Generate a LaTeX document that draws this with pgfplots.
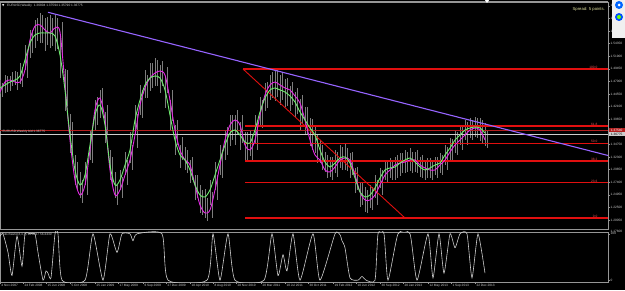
\documentclass[border=0pt]{standalone}
\usepackage{fontspec}
\setmainfont{Liberation Sans}
\newfontfamily\djv{DejaVu Sans}
\usepackage{pgfplots}
\pgfplotsset{compat=1.18}
\usepackage{pgfplotstable}
\definecolor{bargray}{RGB}{125,125,125}
\definecolor{magen}{RGB}{230,40,230}
\definecolor{lgreen}{RGB}{110,235,110}
\definecolor{fibred}{RGB}{225,15,15}
\definecolor{askred}{RGB}{180,30,30}
\definecolor{purp}{RGB}{150,100,255}
\definecolor{axgray}{RGB}{150,150,150}
\definecolor{lbl}{RGB}{205,205,205}
\definecolor{spr}{RGB}{225,225,160}
\newcommand\tf{\fontsize{3.2}{3.6}\selectfont}

\pgfplotstableread{
x G M ep em ep2 em2
0 1.4571 1.4493 .015 .012 .018 .010
5 1.4629 1.4687 .020 .015 .012 .020
10 1.4687 1.4726 .012 .018 .015 .012
15 1.4726 1.4687 .018 .010 .020 .015
20 1.4804 1.4687 .025 .015 .030 .010
25 1.5115 1.4921 .030 .020 .035 .015
30 1.5446 1.5504 .025 .030 .020 .025
35 1.5601 1.5776 .030 .025 .015 .030
40 1.5640 1.5796 .038 .020 .020 .035
45 1.5640 1.5699 .030 .035 .025 .030
50 1.5640 1.5640 .035 .030 .030 .025
55 1.5582 1.5738 .040 .030 .020 .040
60 1.5212 1.5660 .035 .045 .020 .050
65 1.4532 1.4629 .040 .040 .030 .040
70 1.3656 1.3559 .040 .035 .035 .030
75 1.2976 1.2781 .030 .030 .035 .020
80 1.2684 1.2489 .025 .025 .030 .015
85 1.2878 1.2684 .025 .020 .030 .020
90 1.3462 1.3365 .030 .030 .035 .025
95 1.4045 1.4143 .030 .030 .025 .030
100 1.4240 1.4376 .030 .025 .020 .030
105 1.3851 1.3948 .025 .035 .030 .030
110 1.3073 1.2976 .030 .030 .025 .030
115 1.2684 1.2489 .025 .025 .020 .020
120 1.2781 1.2587 .020 .020 .025 .015
125 1.3073 1.2878 .025 .020 .030 .020
130 1.3365 1.3170 .035 .025 .030 .020
135 1.3948 1.3656 .030 .030 .040 .025
140 1.4337 1.4240 .030 .030 .030 .025
145 1.4629 1.4571 .030 .025 .025 .020
150 1.4765 1.4765 .030 .025 .030 .020
155 1.4804 1.4862 .035 .020 .025 .025
160 1.4765 1.4901 .025 .030 .020 .030
165 1.4532 1.4823 .025 .035 .015 .035
170 1.4045 1.4337 .030 .030 .020 .040
175 1.3559 1.3754 .030 .030 .020 .030
180 1.3267 1.3365 .020 .025 .025 .020
185 1.3170 1.3170 .025 .020 .020 .025
190 1.2976 1.3073 .020 .025 .015 .030
195 1.2684 1.2684 .020 .030 .020 .025
200 1.2489 1.2295 .020 .035 .030 .020
205 1.2451 1.2139 .015 .040 .030 .015
210 1.2587 1.2198 .020 .030 .035 .015
215 1.2878 1.2587 .025 .030 .030 .020
220 1.3170 1.3073 .030 .030 .030 .025
225 1.3462 1.3559 .030 .030 .025 .030
230 1.3695 1.3851 .035 .025 .020 .030
235 1.3754 1.3948 .030 .030 .020 .030
240 1.3656 1.3851 .025 .030 .020 .035
245 1.3520 1.3462 .020 .035 .025 .030
250 1.3501 1.3365 .025 .025 .030 .020
255 1.3754 1.3559 .030 .025 .035 .020
260 1.4104 1.4045 .030 .025 .030 .025
265 1.4376 1.4434 .030 .025 .025 .025
270 1.4532 1.4629 .030 .020 .025 .025
275 1.4571 1.4687 .035 .025 .025 .030
280 1.4532 1.4629 .030 .030 .025 .030
285 1.4493 1.4571 .025 .030 .020 .035
290 1.4415 1.4532 .020 .030 .015 .030
295 1.4298 1.4415 .020 .030 .015 .035
300 1.4104 1.4279 .025 .035 .015 .040
305 1.3948 1.3948 .025 .030 .025 .030
310 1.3793 1.3559 .020 .035 .040 .020
315 1.3656 1.3267 .020 .035 .040 .015
320 1.3365 1.3170 .020 .025 .030 .020
325 1.3131 1.2976 .020 .020 .030 .015
330 1.3034 1.2937 .020 .020 .030 .015
335 1.3112 1.3034 .025 .020 .030 .020
340 1.3209 1.3170 .025 .020 .025 .020
345 1.3229 1.3209 .025 .025 .020 .025
350 1.3112 1.3170 .020 .030 .015 .030
355 1.2820 1.2878 .020 .030 .015 .030
360 1.2548 1.2548 .020 .030 .020 .025
365 1.2451 1.2392 .020 .030 .020 .025
370 1.2489 1.2392 .020 .025 .025 .020
375 1.2626 1.2489 .025 .020 .030 .020
380 1.2820 1.2684 .020 .020 .030 .020
385 1.2976 1.2878 .020 .020 .025 .015
390 1.3015 1.2976 .020 .020 .020 .020
395 1.3034 1.3073 .020 .025 .020 .025
400 1.3112 1.3112 .020 .025 .020 .020
405 1.3170 1.3131 .020 .025 .020 .020
410 1.3209 1.3170 .020 .025 .015 .025
415 1.3131 1.3170 .020 .020 .020 .025
420 1.3034 1.3073 .020 .020 .020 .025
425 1.2976 1.3015 .020 .020 .020 .020
430 1.3015 1.2976 .020 .020 .020 .020
435 1.3073 1.2976 .015 .020 .025 .015
440 1.3112 1.3073 .020 .020 .020 .020
445 1.3267 1.3170 .020 .020 .025 .020
450 1.3404 1.3326 .020 .025 .025 .020
455 1.3559 1.3462 .020 .025 .025 .020
460 1.3656 1.3559 .020 .020 .025 .020
465 1.3754 1.3656 .020 .020 .025 .020
470 1.3793 1.3754 .020 .020 .020 .020
475 1.3812 1.3793 .020 .020 .020 .020
480 1.3793 1.3754 .020 .025 .020 .025
485 1.3695 1.3559 .020 .025 .020 .015
}\price

\pgfplotstableread{
x s
0 95
3 100
8 60
12 10
17 95
22 30
25 100
30 100
35 100
38 60
43 0
46 20
48 15
51 5
55 100
58 100
62 0
85 0
93 100
103 0
110 100
117 60
122 100
130 100
133 85
137 100
162 100
168 0
207 0
213 100
220 0
228 100
235 0
264 0
272 100
278 10
283 55
287 20
293 100
300 0
313 100
320 0
335 100
340 98
342 85
345 70
350 5
358 0
362 8
366 0
375 0
378 100
384 100
388 0
398 100
410 100
417 0
428 100
433 5
439 100
444 15
450 100
455 70
460 100
467 100
472 5
478 100
485 15
}\stoch

\begin{document}
\begin{tikzpicture}[x=1pt,y=1pt]
\fill[black] (0pt,0pt) rectangle (625pt,290pt);
\useasboundingbox (0pt,0pt) rectangle (625pt,290pt);
\draw[axgray, line width=0.5pt] (0pt,288.5pt) -- (608pt,288.5pt);
\begin{axis}[at={(0pt,61pt)}, anchor=south west, scale only axis,
  width=608pt, height=227pt,
  xmin=0, xmax=608, ymin=1.18281, ymax=1.62432,
  axis line style={axgray, line width=0.5pt},
  xtick=\empty,
  ytick={1.20050,1.22500,1.24950,1.27400,1.29850,1.32300,1.34750,1.37200,1.39650,1.42100,1.44550,1.47000,1.49450,1.51900,1.54350,1.56800,1.59250,1.61700},
  ytick pos=right, yticklabel pos=right, tick align=outside,
  major tick length=1.5pt, tick style={axgray, line width=0.4pt},
  scaled y ticks=false,
  yticklabel style={font=\tf, text=lbl, inner sep=1pt, /pgf/number format/.cd, fixed, fixed zerofill, precision=5, assume math mode=true},
  clip=true]
\addplot[draw=none, mark=none, forget plot, error bars/.cd, y dir=both, y explicit, error mark=none,
  error bar style={draw=bargray, line width=0.5pt}]
  table[x=x, y=G, y error plus=ep, y error minus=em]{\price};
\addplot[draw=none, mark=none, forget plot, error bars/.cd, y dir=both, y explicit, error mark=none,
  error bar style={draw=bargray, line width=0.5pt}]
  table[x expr=\thisrow{x}+2.5, y=M, y error plus=ep2, y error minus=em2]{\price};
% fibonacci levels
\addplot[draw=fibred, line width=1.2pt] coordinates {(243,1.4940) (608,1.4940)};
\addplot[draw=fibred, line width=1.2pt] coordinates {(245,1.3833) (608,1.3833)};
\addplot[draw=fibred, line width=1.2pt] coordinates {(245,1.3491) (608,1.3491)};
\addplot[draw=fibred, line width=1.2pt] coordinates {(245,1.3149) (608,1.3149)};
\addplot[draw=fibred, line width=1.2pt] coordinates {(245,1.2726) (608,1.2726)};
\addplot[draw=fibred, line width=1.2pt] coordinates {(245,1.2042) (608,1.2042)};
\addplot[draw=fibred, line width=0.9pt] coordinates {(243,1.4940) (405,1.2042)};
% ask / bid lines
\addplot[draw=askred, line width=0.6pt] coordinates {(0,1.3754) (608,1.3754)};
\addplot[draw=lbl, line width=0.4pt] coordinates {(0,1.3676) (608,1.3676)};
% moving averages
\addplot[magen, line width=0.9pt, smooth, tension=0.5] table[x=x, y=M]{\price};
\addplot[lgreen, line width=0.9pt, smooth, tension=0.5] table[x=x, y=G]{\price};
% trend line
\addplot[purp, line width=1.1pt] coordinates {(48,1.6043) (608,1.3258)};
\node[anchor=south east, font=\tf, text=fibred!70!white, inner sep=0.4pt] at (axis cs:598,1.4940) {100.0};
\node[anchor=south east, font=\tf, text=fibred!70!white, inner sep=0.4pt] at (axis cs:598,1.3833) {61.8};
\node[anchor=south east, font=\tf, text=fibred!70!white, inner sep=0.4pt] at (axis cs:598,1.3491) {50.0};
\node[anchor=south east, font=\tf, text=fibred!70!white, inner sep=0.4pt] at (axis cs:598,1.3149) {38.2};
\node[anchor=south east, font=\tf, text=fibred!70!white, inner sep=0.4pt] at (axis cs:598,1.2726) {23.6};
\node[anchor=south east, font=\tf, text=fibred!70!white, inner sep=0.4pt] at (axis cs:598,1.2042) {0.0};
\node[anchor=south west, font=\tf, text=lbl, inner sep=0.4pt] at (axis cs:2,1.3676) {EURUSD,Weekly bid 1.36775};
\end{axis}
\begin{axis}[at={(0pt,8pt)}, anchor=south west, scale only axis,
  width=608pt, height=50pt,
  xmin=0, xmax=608, ymin=-4, ymax=104,
  axis line style={axgray, line width=0.5pt},
  xtick={0,23,46,70,95,118,143,166,190,213,236,261,285,308,333,356,380,403,428,451,475},
  xticklabels={4 Nov 2007,24 Feb 2008,15 Jun 2008,5 Oct 2008,25 Jan 2009,17 May 2009,6 Sep 2009,27 Dec 2009,18 Apr 2010,8 Aug 2010,28 Nov 2010,20 Mar 2011,10 Jul 2011,30 Oct 2011,19 Feb 2012,10 Jun 2012,30 Sep 2012,20 Jan 2013,12 May 2013,1 Sep 2013,22 Dec 2013},
  xticklabel style={anchor=north west, font=\tf, text=lbl, inner sep=0.8pt, xshift=0.5pt},
  xtick pos=bottom,
  ytick={0,100}, ytick pos=right, yticklabel pos=right,
  yticklabel style={font=\tf, text=lbl, inner sep=1pt, /pgf/number format/assume math mode=true},
  tick align=outside, major tick length=1.5pt, tick style={axgray, line width=0.4pt},
  clip=true]
\addplot[lbl, line width=0.6pt, smooth, tension=0.35] table[x=x, y=s]{\stoch};
\node[anchor=north west, font=\tf, text=lbl, inner sep=0.5pt] at (axis cs:2,102) {Stochastic(8,3,3) 10.8437 56.4430};
\end{axis}
% top-left info
\node[anchor=west, inner sep=0pt, text=white] at (2pt,284.5pt) {\djv\fontsize{3}{3}\selectfont ▼};
\node[anchor=west, font=\tf, text=lbl, inner sep=0pt] at (7pt,284.5pt) {EURUSD,Weekly\ \ 1.36804 1.37594 1.35790 1.36775};
\node[anchor=east, font=\fontsize{4.2}{5}\selectfont, text=spr, inner sep=0pt] at (605pt,281pt) {Spread: 5 points.};
\fill[white] (485pt,289.8pt) -- (489pt,289.8pt) -- (487pt,287pt) -- cycle;
% price boxes
\node[anchor=west, fill=askred, text=white, font=\tf, inner sep=0.6pt, minimum width=16pt] at (608.5pt,160pt) {1.37540};
\node[anchor=west, fill=lbl, text=black, font=\tf, inner sep=0.6pt, minimum width=16pt] at (608.5pt,156pt) {1.36775};
\node[anchor=west, font=\tf, text=lbl, inner sep=1pt] at (609.5pt,58.5pt) {1.17600};
% toolbar icons
\fill[white!94!black] (612pt,252pt) rectangle (625pt,290pt);
\fill[blue!60!cyan] (619pt,285pt) circle (4pt);
\fill[white] (619pt,285pt) circle (1.5pt);
\fill[blue!70!cyan] (619pt,273pt) circle (4pt);
\fill[green!60!yellow] (619pt,273pt) circle (2pt);
\end{tikzpicture}
\end{document}
